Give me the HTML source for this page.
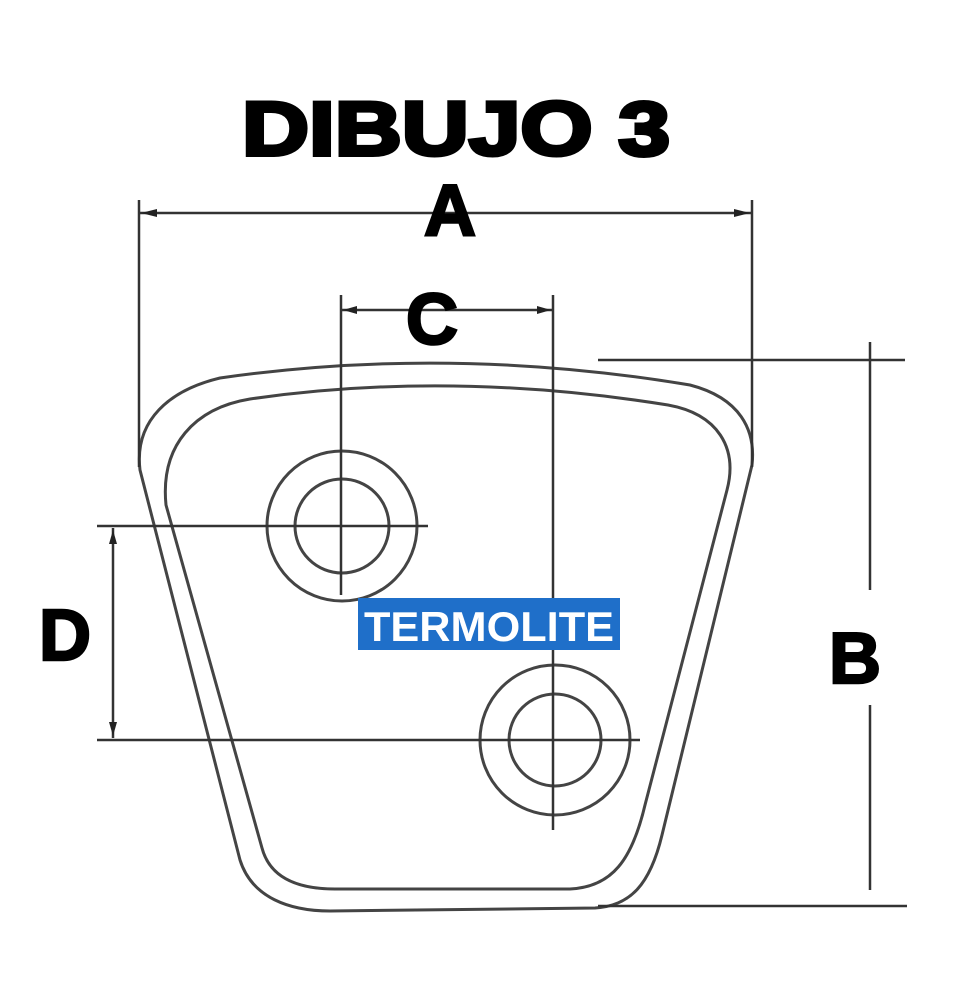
<!DOCTYPE html>
<html><head><meta charset="utf-8"><style>
html,body{margin:0;padding:0;background:#fff;}
svg{display:block;}
.t{font-family:"Liberation Sans",Arial,sans-serif;font-weight:bold;fill:#000;stroke:#000;stroke-width:2.5;}
</style></head><body>
<svg width="960" height="1000" viewBox="0 0 960 1000" xmlns="http://www.w3.org/2000/svg">
<g fill="none" stroke="#444" stroke-width="3">
<path d="M140,470 C134,420 170,390 220,378 Q450,345 690,385 C740,398 756,430 752,465 L662,835 C650,885 630,906 595,908 L330,911 C290,911 252,898 240,860 Z"/>
<path d="M166,505 C160,445 195,408 250,399 Q450,370 668,405 C718,414 738,448 727,490 L645,805 C632,860 612,887 570,889 L335,889 C298,889 270,878 262,848 Z"/>
<circle cx="342" cy="526" r="75"/>
<circle cx="342" cy="526" r="47"/>
<circle cx="555" cy="740" r="75"/>
<circle cx="555" cy="740" r="46"/>
</g>
<g stroke="#333" stroke-width="2.5" fill="none">
<line x1="139" y1="200" x2="139" y2="467"/>
<line x1="752" y1="200" x2="752" y2="467"/>
<line x1="139" y1="213" x2="752" y2="213"/>
<line x1="341" y1="295" x2="341" y2="595"/>
<line x1="553" y1="295" x2="553" y2="830"/>
<line x1="341" y1="310" x2="553" y2="310"/>
<line x1="97" y1="526" x2="428" y2="526"/>
<line x1="97" y1="740" x2="640" y2="740"/>
<line x1="113" y1="528" x2="113" y2="738"/>
<line x1="598" y1="360" x2="905" y2="360"/>
<line x1="598" y1="906" x2="907" y2="906"/>
<line x1="870" y1="342" x2="870" y2="590"/>
<line x1="870" y1="705" x2="870" y2="890"/>
</g>
<g fill="#222">
<path d="M141,213 l16,-4 v8 z"/><path d="M750,213 l-16,-4 v8 z"/>
<path d="M343,310 l14,-4 v8 z"/><path d="M551,310 l-14,-4 v8 z"/>
<path d="M113,530 l-4,14 h8 z"/><path d="M113,736 l-4,-14 h8 z"/>
</g>
<text class="t" x="242" y="155" font-size="76" textLength="428" lengthAdjust="spacingAndGlyphs" style="stroke-width:4">DIBUJO 3</text>
<text class="t" x="450" y="235" font-size="72" text-anchor="middle">A</text>
<text class="t" x="432" y="344" font-size="72" text-anchor="middle">C</text>
<text class="t" x="65" y="660" font-size="72" text-anchor="middle">D</text>
<text class="t" x="855" y="683" font-size="72" text-anchor="middle">B</text>
<rect x="358" y="598" width="262" height="52" fill="#1f6fc9"/>
<text x="364" y="641" font-family="Liberation Sans,Arial,sans-serif" font-weight="bold" font-size="42" fill="#fff" textLength="250" lengthAdjust="spacingAndGlyphs">TERMOLITE</text>
</svg>
</body></html>
